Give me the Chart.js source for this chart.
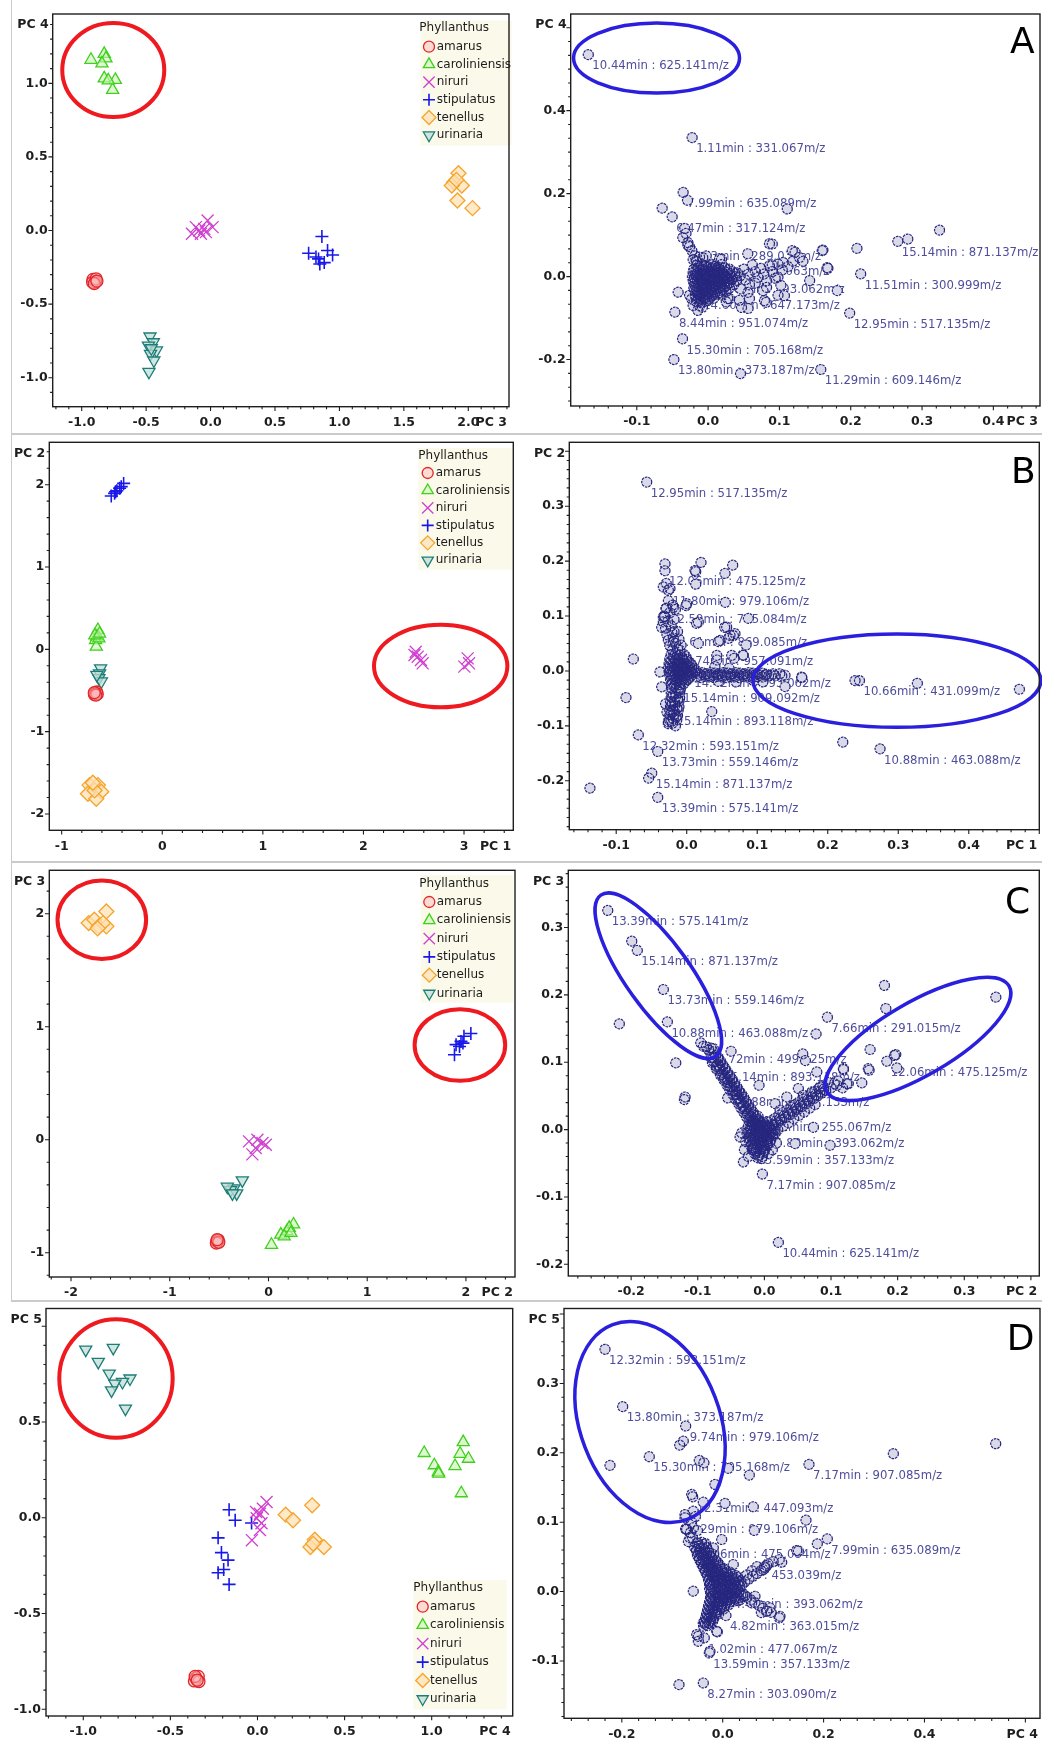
<!DOCTYPE html>
<html>
<head>
<meta charset="utf-8">
<script src="https://cdn.jsdelivr.net/npm/chart.js@4.4.1/dist/chart.umd.min.js"></script>
<style>
  html, body { margin: 0; padding: 0; background: #fff; }
  #fig { position: relative; width: 1042px; height: 1742px; overflow: hidden; background: #fff; }
  #fig canvas { position: absolute; }
  .sep { position: absolute; background: #cbcbcb; }
</style>
</head>
<body>
<div id="fig"></div>
<script>
// ---------------- categories ----------------
const species = ['amarus', 'caroliniensis', 'niruri', 'stipulatus', 'tenellus', 'urinaria'];
const legendTitle = 'Phyllanthus';

// ---------------- PCA scores (per species, [PCx, PCy]) ----------------
// PC3 vs PC4
const amarus34 = [[-0.912,-0.332],[-0.893,-0.348],[-0.915,-0.352],[-0.888,-0.328],[-0.902,-0.36],[-0.882,-0.344]];
const caroliniensis34 = [[-0.928,1.16],[-0.825,1.2],[-0.812,1.17],[-0.843,1.136],[-0.825,1.034],[-0.739,1.023],[-0.76,0.955],[-0.794,1.02]];
const niruri34 = [[-0.144,-0.022],[-0.088,0.0],[-0.049,0.011],[-0.023,0.068],[0.016,0.023],[-0.114,0.023],[-0.075,-0.022],[-0.036,-0.011]];
const stipulatus34 = [[0.864,-0.041],[0.761,-0.154],[0.838,-0.193],[0.848,-0.227],[0.908,-0.136],[0.947,-0.166],[0.882,-0.218],[0.818,-0.18]];
const tenellus34 = [[1.924,0.389],[1.89,0.328],[1.95,0.306],[1.872,0.306],[1.916,0.204],[2.033,0.152],[1.908,0.344]];
const urinaria34 = [[-0.47,-0.72],[-0.444,-0.759],[-0.482,-0.782],[-0.42,-0.815],[-0.466,-0.838],[-0.44,-0.883],[-0.478,-0.96],[-0.46,-0.8]];
// PC1 vs PC2
const amarus12 = [[-0.668,-0.532],[-0.652,-0.518],[-0.674,-0.548],[-0.646,-0.543],[-0.66,-0.556],[-0.676,-0.526]];
const caroliniensis12 = [[-0.64,0.235],[-0.65,0.154],[-0.663,0.113],[-0.656,0.032],[-0.63,0.134],[-0.67,0.17],[-0.623,0.19]];
const niruri12 = [[2.508,-0.069],[2.54,-0.089],[2.589,-0.17],[2.572,-0.13],[3.036,-0.11],[3.003,-0.21],[3.05,-0.17],[2.52,-0.03]];
const stipulatus12 = [[-0.507,1.863],[-0.474,1.895],[-0.451,1.927],[-0.424,1.956],[-0.384,2.016],[-0.464,1.915],[-0.408,1.976]];
const tenellus12 = [[-0.723,-1.649],[-0.64,-1.649],[-0.606,-1.73],[-0.739,-1.754],[-0.656,-1.815],[-0.673,-1.714],[-0.69,-1.62]];
const urinaria12 = [[-0.613,-0.231],[-0.623,-0.292],[-0.63,-0.35],[-0.606,-0.39],[-0.65,-0.31]];
// PC2 vs PC3
const amarus23 = [[-0.522,-0.898],[-0.508,-0.888],[-0.528,-0.914],[-0.503,-0.908],[-0.52,-0.884]];
const caroliniensis23 = [[0.03,-0.93],[0.125,-0.84],[0.186,-0.81],[0.254,-0.75],[0.21,-0.78],[0.159,-0.855],[0.227,-0.825]];
const niruri23 = [[-0.197,-0.015],[-0.112,0.0],[-0.163,-0.13],[-0.061,-0.03],[-0.027,-0.045],[-0.129,-0.074]];
const stipulatus23 = [[1.884,0.752],[1.9,0.841],[1.95,0.87],[1.98,0.915],[2.05,0.94],[1.935,0.825],[1.97,0.855]];
const tenellus23 = [[-1.642,2.02],[-1.821,1.917],[-1.764,1.947],[-1.72,1.888],[-1.642,1.888],[-1.676,1.917],[-1.73,1.87]];
const urinaria23 = [[-0.265,-0.36],[-0.35,-0.43],[-0.383,-0.445],[-0.417,-0.416],[-0.322,-0.475],[-0.365,-0.475]];
// PC4 vs PC5
const amarus45 = [[-0.355,-0.838],[-0.34,-0.828],[-0.362,-0.852],[-0.336,-0.855],[-0.358,-0.828],[-0.346,-0.848]];
const caroliniensis45 = [[0.957,0.338],[1.181,0.395],[1.015,0.274],[1.038,0.239],[1.134,0.27],[1.163,0.334],[1.211,0.308],[1.17,0.128],[1.04,0.23]];
const niruri45 = [[0.052,0.082],[0.014,0.021],[-0.004,-0.003],[0.023,-0.029],[-0.032,-0.117],[0.014,-0.064],[-0.008,0.03],[0.031,0.047]];
const stipulatus45 = [[-0.163,0.042],[-0.128,-0.013],[-0.034,-0.027],[-0.226,-0.105],[-0.207,-0.182],[-0.169,-0.221],[-0.194,-0.27],[-0.226,-0.287],[-0.163,-0.348]];
const tenellus45 = [[0.162,0.016],[0.204,-0.013],[0.314,0.065],[0.329,-0.115],[0.304,-0.153],[0.381,-0.153],[0.32,-0.136]];
const urinaria45 = [[-0.986,0.878],[-0.828,0.887],[-0.914,0.814],[-0.851,0.753],[-0.732,0.727],[-0.775,0.709],[-0.819,0.7],[-0.838,0.665],[-0.758,0.57]];

// ---------------- loadings (variables, [PCx, PCy]) ----------------
const loadPC34 = [
  [-0.0289,0.184],[-0.0644,0.165],[0.111,0.163],[-0.0327,0.116],[0.3245,0.112],[0.28,0.0905],[0.2087,0.068],[0.161,0.064],[0.09,0.0785],[0.168,0.02],[0.1424,-0.0096],[0.1812,-0.0337],[-0.042,-0.0377],[0.0454,-0.234],
  [-0.0355,0.094],[-0.0284,0.082],[-0.0228,0.0625],[-0.0186,0.05],[-0.031,0.104],[-0.026,0.072],[-0.021,0.041],[-0.016,0.036],[-0.012,0.047],[-0.0075,0.0457],[0.016,0.043],[0.0556,0.055],[0.0187,0.0416],[-0.0026,0.05],
  [0.086,0.079],[0.118,0.0625],[0.16,0.0625],[0.167,0.0216],[0.122,0.059],[0.133,0.037],[0.119,0.037],[0.105,0.034],[0.09,0.028],[0.128,0.046],[0.112,0.024],[0.098,0.03],[0.104,0.016],[0.094,-0.004],[0.09,0.012],[0.086,0.026],[0.082,-0.01],[0.078,0.006],[0.074,0.02],[0.066,-0.016],[0.07,-0.002],[0.066,0.012],[0.062,0.028],[0.058,-0.02],[0.052,-0.008],[0.056,0.006],[0.05,0.018],[0.098,-0.001],[0.102,-0.021],[0.098,-0.045],[0.107,-0.046],[0.082,-0.026],[0.079,-0.058],[0.0815,-0.062],[0.056,-0.077],[0.077,-0.034],[0.058,-0.053],[0.056,-0.038],[0.046,-0.03],[0.044,-0.057],[0.0468,-0.0745],[0.03,-0.053],[0.0255,-0.061],[0.0276,-0.053],
  [-0.023,-0.054],[-0.021,-0.07],[-0.012,-0.07],[-0.026,-0.045],[-0.008,-0.074],[-0.0144,-0.0817],
  [-0.016,0.027],[-0.009,0.029],[-0.003,0.026],[0.004,0.028],[0.011,0.025],[0.019,0.029],
  [-0.02,0.018],[-0.014,0.02],[-0.008,0.017],[-0.002,0.021],[0.005,0.018],[0.01,0.02],[0.016,0.017],[0.023,0.021],[0.03,0.018],
  [-0.021,0.01],[-0.015,0.008],[-0.009,0.011],[-0.003,0.009],[0.003,0.012],[0.009,0.009],[0.015,0.011],[0.021,0.008],[0.027,0.01],[0.034,0.012],[0.041,0.009],
  [-0.022,0.0],[-0.016,0.002],[-0.01,-0.001],[-0.004,0.002],[0.002,0.0],[0.008,0.003],[0.014,0.0],[0.02,0.002],[0.026,-0.001],[0.032,0.002],[0.038,0.0],[0.045,0.002],
  [-0.021,-0.009],[-0.015,-0.007],[-0.009,-0.01],[-0.003,-0.007],[0.003,-0.009],[0.009,-0.006],[0.015,-0.009],[0.021,-0.007],[0.027,-0.01],[0.033,-0.007],[0.04,-0.009],
  [-0.02,-0.016],[-0.014,-0.018],[-0.008,-0.016],[-0.002,-0.019],[0.004,-0.016],[0.01,-0.018],[0.016,-0.015],[0.022,-0.018],[0.029,-0.016],[0.036,-0.019],
  [-0.02,-0.027],[-0.014,-0.025],[-0.008,-0.028],[-0.002,-0.025],[0.004,-0.027],[0.01,-0.024],[0.016,-0.027],[0.023,-0.025],[0.03,-0.028],
  [-0.019,-0.034],[-0.013,-0.036],[-0.007,-0.034],[-0.001,-0.037],[0.005,-0.034],[0.011,-0.036],[0.018,-0.033],[0.025,-0.036],
  [-0.018,-0.045],[-0.012,-0.043],[-0.006,-0.046],[0.0,-0.043],[0.006,-0.045],[0.013,-0.042],[0.02,-0.045],
  [-0.017,-0.052],[-0.011,-0.054],[-0.005,-0.051],[0.001,-0.054],[0.008,-0.052],
  [-0.016,-0.061],[-0.01,-0.063],[-0.004,-0.06]
];
// densest part of the PC3/PC4 cloud
const loadPC34Core = [
  [-0.013,0.024],[-0.006,0.025],[0.001,0.023],[0.008,0.024],[0.015,0.022],
  [-0.017,0.014],[-0.011,0.015],[-0.005,0.013],[0.001,0.016],[0.008,0.014],[0.013,0.015],[0.019,0.013],[0.026,0.016],
  [-0.018,0.005],[-0.012,0.004],[-0.006,0.006],[0.0,0.005],[0.006,0.007],[0.012,0.005],[0.018,0.006],[0.024,0.004],[0.03,0.006],[0.037,0.007],
  [-0.019,-0.004],[-0.013,-0.003],[-0.007,-0.005],[-0.001,-0.002],[0.005,-0.004],[0.011,-0.002],[0.017,-0.004],[0.023,-0.003],[0.029,-0.005],[0.035,-0.003],
  [-0.018,-0.013],[-0.012,-0.011],[-0.006,-0.014],[0.0,-0.012],[0.006,-0.013],[0.012,-0.011],[0.018,-0.013],[0.024,-0.012],[0.031,-0.014],
  [-0.017,-0.022],[-0.011,-0.021],[-0.005,-0.023],[0.001,-0.021],[0.007,-0.023],[0.013,-0.02],[0.019,-0.022],[0.026,-0.021],
  [-0.016,-0.031],[-0.01,-0.03],[-0.004,-0.032],[0.002,-0.03],[0.008,-0.031],[0.014,-0.029],[0.021,-0.031],
  [-0.015,-0.04],[-0.009,-0.039],[-0.003,-0.041],[0.003,-0.039],[0.009,-0.04],[0.016,-0.038],
  [-0.014,-0.049],[-0.008,-0.048],[-0.002,-0.05],[0.004,-0.048],
  [-0.013,-0.057],[-0.007,-0.056],[-0.001,-0.058]
];
const labelsPC34 = [
  [-0.168,0.535,'10.44min : 625.141m/z'],
  [-0.0224,0.335,'1.11min : 331.067m/z'],
  [-0.035,0.203,'7.99min : 635.089m/z'],
  [-0.0504,0.144,'6.47min : 317.124m/z'],
  [-0.0284,0.076,'2.93min : 289.035m/z'],
  [-0.0168,0.0385,'5.10min : 477.063m/z'],
  [0.0047,-0.004,'4.48min : 393.062m/z'],
  [-0.0126,-0.0416,'14.60min : 647.173m/z'],
  [-0.0466,-0.0858,'8.44min : 951.074m/z'],
  [-0.0359,-0.15,'15.30min : 705.168m/z'],
  [-0.048,-0.2,'13.80min : 373.187m/z'],
  [0.158,-0.224,'11.29min : 609.146m/z'],
  [0.1985,-0.088,'12.95min : 517.135m/z'],
  [0.2139,0.0064,'11.51min : 300.999m/z'],
  [0.266,0.085,'15.14min : 871.137m/z']
];

const loadPC12 = [
  [0.0203,0.1976],[0.0652,0.1927],[-0.0308,0.195],[0.0128,0.1807],[0.0543,0.1776],[-0.029,0.1595],[0.0128,0.158],[-0.001,0.119],[0.0548,0.125],[-0.031,0.099],[0.0874,0.0958],[0.0138,0.0867],[0.0538,0.0795],[-0.0355,0.0795],[0.0662,0.0643],[0.0595,0.0594],[0.0449,0.0535],[0.0842,0.0473],[0.0797,0.0291],[0.0428,0.02],[0.0672,0.023],[-0.0757,0.0218],[-0.0861,-0.0484],[0.0355,-0.0739],[0.1631,-0.012],[0.1348,-0.009],[0.1253,-0.009],[0.1395,-0.0284],[0.2387,-0.0175],[0.3271,-0.0224],[0.4718,-0.0333],[0.2213,-0.1296],[-0.1372,-0.2133],[-0.054,-0.195],
  [-0.0332,0.153],[-0.0237,0.15],[-0.019,0.116],[0.0,0.1225],[-0.0332,0.098],[0.0165,0.089],[-0.0332,0.0895],[0.0567,0.08],[0.0614,0.065],[0.0685,0.068],[0.0472,0.0558],[-0.019,0.0527],[0.0165,0.05],[0.0803,0.0285],[0.0426,0.0285],[0.0638,0.0285],[-0.0379,-0.0018],[-0.0355,-0.029],[-0.026,-0.0927],[0.1394,-0.0078],[0.163,-0.011],[0.123,-0.005],[0.132,-0.005],[0.0118,0.183],
  [-0.022,0.03],[-0.016,0.031],[-0.01,0.029],[-0.004,0.03],
  [-0.024,0.022],[-0.018,0.023],[-0.012,0.021],[-0.006,0.022],[0.0,0.021],
  [-0.025,0.014],[-0.019,0.015],[-0.013,0.013],[-0.007,0.014],[-0.001,0.013],[0.005,0.015],
  [-0.026,0.006],[-0.02,0.007],[-0.014,0.005],[-0.008,0.006],[-0.002,0.005],[0.004,0.007],[0.01,0.005],
  [-0.025,-0.001],[-0.019,0.0],[-0.013,-0.002],[-0.007,-0.001],[-0.001,-0.002],[0.005,0.0],[0.011,-0.002],
  [-0.024,-0.008],[-0.018,-0.009],[-0.012,-0.007],[-0.006,-0.009],[0.0,-0.008],[0.006,-0.009],
  [-0.023,-0.016],[-0.017,-0.015],[-0.011,-0.017],[-0.005,-0.015],[0.001,-0.016],
  [-0.022,-0.024],[-0.016,-0.023],[-0.01,-0.025],[-0.004,-0.023],
  [0.016,-0.004],[0.022,-0.003],[0.028,-0.005],[0.034,-0.003],[0.04,-0.004],[0.046,-0.005],[0.052,-0.003],[0.058,-0.004],[0.064,-0.005],[0.07,-0.003],[0.076,-0.004],[0.082,-0.005],[0.088,-0.003],[0.094,-0.004],[0.1,-0.005],[0.107,-0.004],
  [0.014,-0.011],[0.02,-0.012],[0.026,-0.01],[0.032,-0.011],[0.038,-0.012],[0.044,-0.01],[0.05,-0.011],[0.056,-0.012],[0.062,-0.01],[0.068,-0.011],[0.074,-0.012],[0.08,-0.01],[0.086,-0.011],[0.093,-0.012],[0.1,-0.01],[0.108,-0.011],[0.116,-0.009],
  [0.12,-0.008],[0.113,-0.006],[0.108,-0.02],[0.095,-0.018],[0.07,-0.02],[0.045,-0.019],[0.06,0.005],[0.04,0.008],
  [-0.021,-0.032],[-0.015,-0.031],[-0.009,-0.033],[-0.022,-0.04],[-0.016,-0.041],[-0.01,-0.039],[-0.022,-0.048],[-0.016,-0.047],[-0.01,-0.049],
  [-0.023,-0.056],[-0.017,-0.057],[-0.011,-0.055],[-0.023,-0.064],[-0.017,-0.063],[-0.011,-0.065],[-0.024,-0.072],[-0.018,-0.073],[-0.012,-0.071],
  [-0.024,-0.08],[-0.018,-0.079],[-0.013,-0.081],[-0.025,-0.088],[-0.019,-0.087],[-0.014,-0.089],[-0.026,-0.096],[-0.02,-0.095],[-0.03,-0.06],[-0.028,-0.075],
  [-0.02,0.038],[-0.013,0.04],[-0.024,0.046],[-0.016,0.05],[-0.008,0.047],[-0.026,0.056],[-0.019,0.06],[-0.011,0.058],[-0.028,0.066],[-0.021,0.07],[-0.013,0.072],[-0.03,0.078],[-0.022,0.082],[-0.027,0.09],[-0.018,0.094],[-0.032,0.1],[-0.024,0.106],[-0.029,0.114],[-0.02,0.12],[-0.026,0.128],[-0.016,0.112]
];
// densest part of the PC1/PC2 cloud
const loadPC12Core = [
  [-0.019,0.026],[-0.013,0.027],[-0.007,0.025],[-0.001,0.026],
  [-0.022,0.018],[-0.016,0.019],[-0.01,0.017],[-0.004,0.018],[0.002,0.017],
  [-0.023,0.01],[-0.017,0.011],[-0.011,0.009],[-0.005,0.01],[0.001,0.009],[0.007,0.011],
  [-0.023,0.002],[-0.017,0.003],[-0.011,0.001],[-0.005,0.002],[0.001,0.001],[0.007,0.003],[0.013,0.001],
  [-0.022,-0.005],[-0.016,-0.004],[-0.01,-0.006],[-0.004,-0.005],[0.002,-0.006],[0.008,-0.004],
  [-0.021,-0.012],[-0.015,-0.013],[-0.009,-0.011],[-0.003,-0.012],[0.003,-0.013],
  [-0.02,-0.02],[-0.014,-0.019],[-0.008,-0.021],[-0.002,-0.019],
  [0.019,-0.0075],[0.025,-0.007],[0.031,-0.008],[0.037,-0.0075],[0.043,-0.007],[0.049,-0.008],[0.055,-0.0075],[0.061,-0.007],[0.067,-0.008],[0.073,-0.0075],[0.079,-0.007],[0.085,-0.008],[0.091,-0.0075],[0.097,-0.007],[0.104,-0.008],[0.111,-0.0075],
  [-0.018,-0.028],[-0.012,-0.036],[-0.019,-0.044],[-0.013,-0.052],[-0.02,-0.06],[-0.014,-0.068],[-0.021,-0.076],[-0.015,-0.084],[-0.022,-0.092],[-0.016,-0.1]
];
const labelsPC12 = [
  [-0.0567,0.344,'12.95min : 517.135m/z'],
  [-0.0308,0.1825,'12.06min : 475.125m/z'],
  [-0.026,0.147,'11.80min : 979.106m/z'],
  [-0.0294,0.114,'12.59min : 785.084m/z'],
  [-0.018,0.0716,'4.61min : 869.085m/z'],
  [-0.0095,0.0376,'8.74min : 957.091m/z'],
  [0.005,-0.002,'14.42min : 393.062m/z'],
  [-0.0105,-0.0302,'15.14min : 909.092m/z'],
  [-0.0199,-0.0709,'15.14min : 893.118m/z'],
  [-0.0686,-0.1164,'12.32min : 593.151m/z'],
  [-0.0411,-0.1466,'13.73min : 559.146m/z'],
  [-0.0496,-0.186,'15.14min : 871.137m/z'],
  [-0.0411,-0.2302,'13.39min : 575.141m/z'],
  [0.245,-0.0175,'10.66min : 431.099m/z'],
  [0.2742,-0.1418,'10.88min : 463.088m/z']
];

const loadPC23 = [
  [-0.1991,0.2798],[-0.2177,0.157],[-0.133,0.099],[-0.12,0.0446],[-0.0955,0.1287],[-0.0915,0.1237],[-0.05,0.1163],[-0.055,0.047],[-0.008,0.0658],[0.0576,0.1124],[0.0616,0.1025],[0.0776,0.142],[0.1802,0.214],[0.1823,0.1798],[0.3474,0.1966],[0.1587,0.1189],[0.1572,0.0881],[0.1952,0.11],[0.1972,0.1114],[0.1988,0.0915],[0.1462,0.0693],[0.1187,0.0891],[0.1237,0.068],[0.1172,0.062],[0.1107,0.072],[0.0736,0.0034],[0.0986,-0.0233],[-0.119,0.0484],[0.0787,0.0856],[0.1186,0.0906],[0.126,0.0683],[0.1087,0.0658],[0.156,0.0906],[0.0461,-0.0208],[0.006,-0.0357],[-0.0315,-0.0481],[-0.0365,-0.011],
  [-0.01,0.003],[-0.0135,0.009],[-0.017,0.014],[-0.0205,0.02],[-0.024,0.025],[-0.0275,0.031],[-0.031,0.036],[-0.0345,0.041],[-0.038,0.047],[-0.0415,0.052],[-0.045,0.058],[-0.0485,0.063],[-0.052,0.069],[-0.0555,0.074],[-0.059,0.079],[-0.0625,0.085],[-0.066,0.09],[-0.0695,0.096],[-0.073,0.101],[-0.0765,0.107],[-0.08,0.112],[-0.0835,0.118],[-0.087,0.123],
  [-0.003,0.004],[-0.0065,0.01],[-0.01,0.015],[-0.0135,0.021],[-0.017,0.026],[-0.0205,0.031],[-0.024,0.037],[-0.0275,0.042],[-0.031,0.048],[-0.0345,0.053],[-0.038,0.058],[-0.0415,0.064],[-0.045,0.069],[-0.0485,0.075],[-0.052,0.08],[-0.0555,0.085],[-0.059,0.091],[-0.0625,0.096],[-0.066,0.102],[-0.07,0.108],
  [-0.019,0.006],[-0.023,0.013],[-0.027,0.019],[-0.031,0.026],[-0.035,0.032],[-0.039,0.039],[-0.043,0.045],[-0.047,0.052],[-0.052,0.059],[-0.056,0.066],[-0.061,0.074],[-0.066,0.081],[-0.072,0.09],[-0.078,0.099],
  [0.008,0.002],[0.014,0.006],[0.02,0.01],[0.026,0.014],[0.032,0.018],[0.038,0.022],[0.044,0.026],[0.05,0.03],[0.056,0.034],[0.062,0.038],[0.068,0.042],[0.074,0.046],[0.08,0.05],[0.086,0.054],[0.092,0.058],
  [0.01,0.013],[0.016,0.017],[0.022,0.021],[0.028,0.025],[0.034,0.029],[0.04,0.033],[0.046,0.037],[0.052,0.041],[0.058,0.045],[0.064,0.049],[0.07,0.053],[0.076,0.057],[0.082,0.061],[0.088,0.065],[0.096,0.07],
  [0.012,-0.006],[0.02,0.0],[0.028,0.005],[0.036,0.01],[0.044,0.016],[0.052,0.021],[0.06,0.026],[0.068,0.032],[0.076,0.037],
  [0.016,0.0386],[0.0336,0.0484],[0.051,0.061],[0.0586,0.051],[0.0712,0.0559],[0.0836,0.0633],[0.0435,0.0361],[0.0236,0.0287],[0.1,0.062],[0.105,0.068],
  [-0.02,0.012],[-0.014,0.011],[-0.008,0.013],[-0.002,0.011],[0.004,0.012],
  [-0.024,0.006],[-0.018,0.005],[-0.012,0.007],[-0.006,0.005],[0.0,0.006],[0.006,0.005],[0.012,0.007],
  [-0.026,0.0],[-0.02,-0.001],[-0.014,0.001],[-0.008,-0.001],[-0.002,0.0],[0.004,-0.001],[0.01,0.001],[0.016,0.0],
  [-0.026,-0.006],[-0.02,-0.007],[-0.014,-0.005],[-0.008,-0.007],[-0.002,-0.006],[0.004,-0.007],[0.01,-0.005],[0.016,-0.006],
  [-0.024,-0.012],[-0.018,-0.013],[-0.012,-0.011],[-0.006,-0.013],[0.0,-0.012],[0.006,-0.013],[0.012,-0.011],
  [-0.022,-0.018],[-0.016,-0.019],[-0.01,-0.017],[-0.004,-0.019],[0.002,-0.018],[0.008,-0.019],
  [-0.02,-0.024],[-0.014,-0.025],[-0.008,-0.023],[-0.002,-0.025],[0.004,-0.024],
  [-0.018,-0.03],[-0.012,-0.031],[-0.006,-0.029],[0.0,-0.031],
  [-0.014,-0.036],[-0.008,-0.037],[-0.002,-0.035],[-0.01,-0.042],[-0.004,-0.043],
  [-0.028,-0.018],[-0.03,-0.03],[-0.024,-0.04],[0.012,-0.03],[0.018,-0.02],[-0.034,-0.005]
];
// densest part of the PC2/PC3 cloud
const loadPC23Core = [
  [-0.0065,0.006],[-0.01,0.0115],[-0.0135,0.017],[-0.017,0.0225],[-0.0205,0.028],[-0.024,0.0335],[-0.0275,0.039],[-0.031,0.0445],[-0.0345,0.05],[-0.038,0.0555],[-0.0415,0.061],[-0.045,0.0665],[-0.0485,0.072],[-0.052,0.0775],[-0.0555,0.083],[-0.059,0.0885],[-0.0625,0.094],[-0.066,0.0995],[-0.0695,0.105],[-0.073,0.11],[-0.0765,0.1155],[-0.08,0.121],
  [-0.0145,0.0045],[-0.018,0.011],[-0.0215,0.0165],[-0.025,0.022],[-0.0285,0.0285],[-0.032,0.034],[-0.036,0.04],[-0.04,0.046],[-0.044,0.052],[-0.048,0.058],[-0.052,0.064],[-0.056,0.07],[-0.06,0.076],[-0.064,0.082],[-0.068,0.088],[-0.072,0.094],[-0.076,0.101],[-0.08,0.107],
  [0.011,0.0075],[0.017,0.0115],[0.023,0.0155],[0.029,0.0195],[0.035,0.0235],[0.041,0.0275],[0.047,0.0315],[0.053,0.0355],[0.059,0.0395],[0.065,0.0435],[0.071,0.0475],[0.077,0.0515],[0.083,0.0555],[0.089,0.0595],
  [-0.017,0.009],[-0.011,0.008],[-0.005,0.01],[0.001,0.008],
  [-0.021,0.003],[-0.015,0.002],[-0.009,0.004],[-0.003,0.002],[0.003,0.003],[0.009,0.002],
  [-0.023,-0.003],[-0.017,-0.004],[-0.011,-0.002],[-0.005,-0.004],[0.001,-0.003],[0.007,-0.004],[0.013,-0.002],
  [-0.023,-0.009],[-0.017,-0.01],[-0.011,-0.008],[-0.005,-0.01],[0.001,-0.009],[0.007,-0.01],[0.013,-0.008],
  [-0.021,-0.015],[-0.015,-0.016],[-0.009,-0.014],[-0.003,-0.016],[0.003,-0.015],[0.009,-0.016],
  [-0.019,-0.021],[-0.013,-0.022],[-0.007,-0.02],[-0.001,-0.022],[0.005,-0.021],
  [-0.017,-0.027],[-0.011,-0.028],[-0.005,-0.026],[0.001,-0.028],
  [-0.013,-0.033],[-0.007,-0.034],[-0.001,-0.032],[-0.009,-0.039],[-0.003,-0.04]
];
const labelsPC23 = [
  [-0.2351,0.3254,'13.39min : 575.141m/z'],
  [-0.1907,0.266,'15.14min : 871.137m/z'],
  [-0.1516,0.208,'13.73min : 559.146m/z'],
  [-0.1456,0.16,'10.88min : 463.088m/z'],
  [-0.0766,0.1204,'6.72min : 499.125m/z'],
  [-0.0676,0.094,'15.14min : 893.118m/z'],
  [0.0946,0.1669,'7.66min : 291.015m/z'],
  [0.1838,0.1015,'12.06min : 475.125m/z'],
  [-0.0425,0.0565,'6.88min : 447.133m/z'],
  [-0.0095,0.0198,'5.71min : 255.067m/z'],
  [0.01,-0.004,'4.83min : 393.062m/z'],
  [-0.0165,-0.0297,'13.59min : 357.133m/z'],
  [-0.003,-0.066,'7.17min : 907.085m/z'],
  [0.021,-0.1675,'10.44min : 625.141m/z']
];

const loadPC45 = [
  [-0.2234,0.1818],[-0.0781,0.2169],[-0.0853,0.2111],[-0.0464,0.189],[-0.0372,0.1856],[0.0111,0.1775],[0.0528,0.1679],[0.3383,0.1987],[0.5412,0.2131],[-0.0153,0.1544],[0.0046,0.127],[0.0607,0.1222],[-0.0385,0.1289],[-0.0583,0.1159],[0.1651,0.1029],[0.0627,0.088],[-0.002,0.075],[-0.0734,0.0904],[0.1876,0.0688],[0.1467,0.0592],[0.15,0.0585],[0.117,0.0423],[0.0825,0.0356],[-0.0583,0.0005],[0.1122,-0.038],[0.0766,-0.0303],[-0.0483,-0.0645],[-0.0483,-0.0717],[-0.0866,-0.1342],[-0.0107,-0.0582],
  [-0.0615,0.14],[-0.0747,0.111],[-0.0714,0.0895],[-0.0186,0.063],[-0.0648,0.0775],[0.021,0.039],[0.0872,0.0375],[0.0805,0.0317],[0.064,-0.0068],[0.0575,-0.0163],[0.0938,-0.0235],[0.1136,-0.0356],[0.0872,-0.0284],[-0.0385,-0.0452],[-0.0119,-0.0573],[-0.0515,-0.062],[-0.0252,-0.0861],
  [-0.05,0.07],[-0.042,0.071],[-0.034,0.069],
  [-0.056,0.064],[-0.048,0.065],[-0.04,0.063],[-0.032,0.064],
  [-0.052,0.058],[-0.044,0.057],[-0.036,0.059],[-0.028,0.058],
  [-0.05,0.052],[-0.042,0.053],[-0.034,0.051],[-0.026,0.052],[-0.018,0.053],
  [-0.046,0.046],[-0.038,0.045],[-0.03,0.047],[-0.022,0.046],[-0.014,0.045],
  [-0.042,0.04],[-0.034,0.041],[-0.026,0.039],[-0.018,0.04],[-0.01,0.041],
  [-0.038,0.034],[-0.03,0.035],[-0.022,0.033],[-0.014,0.034],[-0.006,0.035],[0.002,0.033],
  [-0.034,0.028],[-0.026,0.029],[-0.018,0.027],[-0.01,0.028],[-0.002,0.029],[0.006,0.027],[0.014,0.028],
  [-0.03,0.022],[-0.022,0.023],[-0.014,0.021],[-0.006,0.022],[0.002,0.023],[0.01,0.021],[0.018,0.022],[0.026,0.023],
  [-0.028,0.016],[-0.02,0.017],[-0.012,0.015],[-0.004,0.016],[0.004,0.017],[0.012,0.015],[0.02,0.016],[0.028,0.017],[0.036,0.015],
  [-0.026,0.01],[-0.018,0.011],[-0.01,0.009],[-0.002,0.01],[0.006,0.011],[0.014,0.009],[0.022,0.01],[0.03,0.011],[0.038,0.009],
  [-0.026,0.004],[-0.018,0.003],[-0.01,0.005],[-0.002,0.004],[0.006,0.003],[0.014,0.005],[0.022,0.004],[0.03,0.003],
  [-0.024,-0.002],[-0.016,-0.001],[-0.008,-0.003],[0.0,-0.002],[0.008,-0.001],[0.016,-0.003],[0.024,-0.002],[0.032,-0.001],[0.04,-0.003],
  [-0.024,-0.008],[-0.016,-0.009],[-0.008,-0.007],[0.0,-0.008],[0.008,-0.009],[0.016,-0.007],[0.024,-0.008],[0.032,-0.009],[0.04,-0.007],[0.048,-0.008],
  [-0.026,-0.014],[-0.018,-0.013],[-0.01,-0.015],[-0.002,-0.014],[0.006,-0.013],[0.014,-0.015],[0.022,-0.014],[0.03,-0.013],
  [-0.028,-0.02],[-0.02,-0.021],[-0.012,-0.019],[-0.004,-0.02],[0.004,-0.021],[0.012,-0.019],
  [-0.03,-0.026],[-0.022,-0.025],[-0.014,-0.027],[-0.006,-0.026],[0.002,-0.025],
  [-0.032,-0.032],[-0.024,-0.033],[-0.016,-0.031],[-0.008,-0.032],
  [-0.034,-0.038],[-0.026,-0.037],[-0.018,-0.039],
  [-0.036,-0.044],[-0.028,-0.045],[-0.02,-0.043],
  [-0.038,-0.05],[-0.03,-0.049],
  [0.044,0.014],[0.052,0.018],[0.06,0.022],[0.068,0.026],[0.076,0.03],[0.084,0.034],[0.048,0.024],[0.058,0.03],[0.068,0.036],[0.1,0.043],[0.112,0.046],[0.09,0.04],
  [0.056,-0.012],[0.064,-0.016],[0.072,-0.02],[0.08,-0.024],[0.088,-0.028],[0.096,-0.03],
  [-0.06,0.078],[-0.064,0.085],[-0.058,0.092],[-0.068,0.072],[-0.073,0.09],[-0.062,0.1],[-0.054,0.108],[-0.05,0.088]
];
// densest part of the PC4/PC5 cloud
const loadPC45Core = [
  [-0.046,0.067],[-0.038,0.068],
  [-0.052,0.061],[-0.044,0.062],[-0.036,0.06],
  [-0.048,0.055],[-0.04,0.054],[-0.032,0.056],[-0.024,0.055],
  [-0.046,0.049],[-0.038,0.05],[-0.03,0.048],[-0.022,0.049],
  [-0.042,0.043],[-0.034,0.042],[-0.026,0.044],[-0.018,0.043],[-0.01,0.042],
  [-0.038,0.037],[-0.03,0.038],[-0.022,0.036],[-0.014,0.037],[-0.006,0.038],
  [-0.034,0.031],[-0.026,0.032],[-0.018,0.03],[-0.01,0.031],[-0.002,0.032],[0.006,0.03],
  [-0.03,0.025],[-0.022,0.026],[-0.014,0.024],[-0.006,0.025],[0.002,0.026],[0.01,0.024],[0.018,0.025],
  [-0.026,0.019],[-0.018,0.02],[-0.01,0.018],[-0.002,0.019],[0.006,0.02],[0.014,0.018],[0.022,0.019],[0.03,0.02],
  [-0.024,0.013],[-0.016,0.014],[-0.008,0.012],[0.0,0.013],[0.008,0.014],[0.016,0.012],[0.024,0.013],[0.032,0.014],
  [-0.022,0.007],[-0.014,0.008],[-0.006,0.006],[0.002,0.007],[0.01,0.008],[0.018,0.006],[0.026,0.007],[0.034,0.008],
  [-0.022,0.001],[-0.014,0.0],[-0.006,0.002],[0.002,0.001],[0.01,0.0],[0.018,0.002],[0.026,0.001],
  [-0.02,-0.005],[-0.012,-0.004],[-0.004,-0.006],[0.004,-0.005],[0.012,-0.004],[0.02,-0.006],[0.028,-0.005],[0.036,-0.004],[0.044,-0.006],
  [-0.022,-0.011],[-0.014,-0.012],[-0.006,-0.01],[0.002,-0.011],[0.01,-0.012],[0.018,-0.01],[0.026,-0.011],[0.034,-0.012],
  [-0.024,-0.017],[-0.016,-0.016],[-0.008,-0.018],[0.0,-0.017],[0.008,-0.016],
  [-0.026,-0.023],[-0.018,-0.024],[-0.01,-0.022],[-0.002,-0.023],
  [-0.028,-0.029],[-0.02,-0.028],[-0.012,-0.03],
  [-0.03,-0.035],[-0.022,-0.036],[-0.014,-0.034],
  [-0.032,-0.041],[-0.024,-0.042],
  [-0.034,-0.047],[-0.026,-0.046]
];
const labelsPC45 = [
  [-0.2333,0.3492,'12.32min : 593.151m/z'],
  [-0.1983,0.2665,'13.80min : 373.187m/z'],
  [-0.1455,0.1944,'15.30min : 705.168m/z'],
  [-0.0734,0.2386,'9.74min : 979.106m/z'],
  [0.1711,0.1833,'7.17min : 907.085m/z'],
  [-0.0595,0.1366,'12.31min : 447.093m/z'],
  [-0.0747,0.1063,'9.29min : 979.106m/z'],
  [0.2074,0.076,'7.99min : 635.089m/z'],
  [-0.05,0.07,'9.96min : 475.084m/z'],
  [-0.029,0.04,'1.77min : 453.039m/z'],
  [0.0139,-0.0029,'4.48min : 393.062m/z'],
  [0.0065,-0.0346,'4.82min : 363.015m/z'],
  [-0.0365,-0.0668,'1.02min : 477.067m/z'],
  [-0.0265,-0.0885,'13.59min : 357.133m/z'],
  [-0.0384,-0.1318,'8.27min : 303.090m/z']
];

// ---------------- tick labels ----------------
const ticksScore34X = ['-1.0','-0.5','0.0','0.5','1.0','1.5','2.0'];
const ticksScore34Y = ['-1.0','-0.5','0.0','0.5','1.0'];
const ticksLoad34X = ['-0.1','0.0','0.1','0.2','0.3','0.4'];
const ticksLoad34Y = ['-0.2','0.0','0.2','0.4'];
const ticksScore12X = ['-1','0','1','2','3'];
const ticksScore12Y = ['-2','-1','0','1','2'];
const ticksLoad12X = ['-0.1','0.0','0.1','0.2','0.3','0.4'];
const ticksLoad12Y = ['-0.2','-0.1','0.0','0.1','0.2','0.3'];
const ticksScore23X = ['-2','-1','0','1','2'];
const ticksScore23Y = ['-1','0','1','2'];
const ticksLoad23X = ['-0.2','-0.1','0.0','0.1','0.2','0.3'];
const ticksLoad23Y = ['-0.2','-0.1','0.0','0.1','0.2','0.3'];
const ticksScore45X = ['-1.0','-0.5','0.0','0.5','1.0'];
const ticksScore45Y = ['-1.0','-0.5','0.0','0.5'];
const ticksLoad45X = ['-0.2','0.0','0.2','0.4'];
const ticksLoad45Y = ['-0.1','0.0','0.1','0.2','0.3'];

// ---------------- styles ----------------
const speciesStyle = {
  amarus:        { pointStyle: 'circle',   radius: 6,   rotation: 0,   bg: 'rgba(250,185,185,0.45)', border: '#e3262b', width: 1.3 },
  caroliniensis: { pointStyle: 'triangle', radius: 7,   rotation: 0,   bg: 'rgba(200,245,180,0.6)',  border: '#3fd01c', width: 1.3 },
  niruri:        { pointStyle: 'crossRot', radius: 8.5, rotation: 0,   bg: 'rgba(0,0,0,0)',          border: '#d040d0', width: 1.3 },
  stipulatus:    { pointStyle: 'cross',    radius: 6.5, rotation: 0,   bg: 'rgba(0,0,0,0)',          border: '#1818ea', width: 1.6 },
  tenellus:      { pointStyle: 'rectRot',  radius: 7.5, rotation: 0,   bg: 'rgba(253,226,182,0.75)', border: '#f6a42c', width: 1.3 },
  urinaria:      { pointStyle: 'triangle', radius: 7,   rotation: 180, bg: 'rgba(192,222,214,0.75)', border: '#1d7d79', width: 1.3 }
};
const loadStyle = { bg: '#d9d9e8', border: '#27277f', radius: 5, width: 1.2 };
const RED = '#ee1a1f', BLUE = '#2a1fdc';
const tickFont = { family: 'DejaVu Sans', size: 12.5, weight: 'bold' };
const INK = '#1e1e1e';

const panels = [
  { canvas: [0, 0, 530, 433], box: [52.7, 14, 509, 406.7], xr: [-1.225, 2.316], yr: [-1.197, 1.471],
    xt: ticksScore34X, yt: ticksScore34Y, xm: 5, ym: 5, xTitle: 'PC 3', yTitle: 'PC 4',
    scores: { amarus: amarus34, caroliniensis: caroliniensis34, niruri: niruri34, stipulatus: stipulatus34, tenellus: tenellus34, urinaria: urinaria34 },
    legend: { title: [419.3, 28], first: 46.7, step: 17.7, mx: 429, tx: 436.7, bg: [420.5, 20.5, 511.5, 145.5] },
    ellipses: [{ cx: -0.755, cy: 1.09, rx: 51, ry: 47, rot: 0, color: RED, w: 4 }] },
  { canvas: [520, 0, 522, 433], box: [570.7, 14, 1040, 406], xr: [-0.1927, 0.4654], yr: [-0.312, 0.633],
    xt: ticksLoad34X, yt: ticksLoad34Y, xm: 5, ym: 6, xTitle: 'PC 3', yTitle: 'PC 4',
    loads: loadPC34.concat(loadPC34Core), labels: labelsPC34, letter: ['A', 1010, 53.3],
    ellipses: [{ cx: -0.0723, cy: 0.5267, rx: 83, ry: 35, rot: 0, color: BLUE, w: 3.5 }] },
  { canvas: [0, 433, 530, 428], box: [49.3, 442.3, 513.3, 830.3], xr: [-1.123, 3.49], yr: [-2.198, 2.515],
    xt: ticksScore12X, yt: ticksScore12Y, xm: 5, ym: 5, xTitle: 'PC 1', yTitle: 'PC 2',
    scores: { amarus: amarus12, caroliniensis: caroliniensis12, niruri: niruri12, stipulatus: stipulatus12, tenellus: tenellus12, urinaria: urinaria12 },
    legend: { title: [418.3, 455.7], first: 473, step: 17.46, mx: 427.7, tx: 435.7, bg: [418.3, 448, 511.7, 569.7] },
    ellipses: [{ cx: 2.768, cy: -0.203, rx: 66.7, ry: 41.3, rot: 0, color: RED, w: 4 }] },
  { canvas: [520, 433, 522, 428], box: [569.3, 442.3, 1039.3, 829.7], xr: [-0.1665, 0.5], yr: [-0.289, 0.4164],
    xt: ticksLoad12X, yt: ticksLoad12Y, xm: 5, ym: 6, xTitle: 'PC 1', yTitle: 'PC 2',
    loads: loadPC12.concat(loadPC12Core), labels: labelsPC12, letter: ['B', 1011, 483],
    ellipses: [{ cx: 0.298, cy: -0.0175, rx: 144, ry: 46.7, rot: 0, color: BLUE, w: 3.5 }] },
  { canvas: [0, 861, 530, 439], box: [49.3, 870.3, 515, 1277], xr: [-2.22, 2.497], yr: [-1.215, 2.384],
    xt: ticksScore23X, yt: ticksScore23Y, xm: 5, ym: 5, xTitle: 'PC 2', yTitle: 'PC 3',
    scores: { amarus: amarus23, caroliniensis: caroliniensis23, niruri: niruri23, stipulatus: stipulatus23, tenellus: tenellus23, urinaria: urinaria23 },
    legend: { title: [419.3, 883.7], first: 902, step: 18.3, mx: 429.3, tx: 436.7, bg: [420.7, 875, 513.3, 1002.7] },
    ellipses: [{ cx: -1.688, cy: 1.947, rx: 44.3, ry: 39.2, rot: 0, color: RED, w: 4 },
               { cx: 1.939, cy: 0.838, rx: 45.3, ry: 35.8, rot: 0, color: RED, w: 4 }] },
  { canvas: [520, 861, 522, 439], box: [568.3, 870.3, 1039.3, 1276], xr: [-0.2943, 0.4126], yr: [-0.2174, 0.385],
    xt: ticksLoad23X, yt: ticksLoad23Y, xm: 5, ym: 5, xTitle: 'PC 2', yTitle: 'PC 3',
    loads: loadPC23.concat(loadPC23Core), labels: labelsPC23, letter: ['C', 1005, 913],
    ellipses: [{ cx: -0.1592, cy: 0.2285, rx: 99, ry: 32.4, rot: 54.5, color: BLUE, w: 3.5 },
               { cx: 0.2305, cy: 0.1346, rx: 105.3, ry: 36.5, rot: -30.2, color: BLUE, w: 3.5 }] },
  { canvas: [0, 1300, 530, 442], box: [46, 1308.3, 512.7, 1716], xr: [-1.214, 1.465], yr: [-1.035, 1.0925],
    xt: ticksScore45X, yt: ticksScore45Y, xm: 5, ym: 5, xTitle: 'PC 4', yTitle: 'PC 5',
    scores: { amarus: amarus45, caroliniensis: caroliniensis45, niruri: niruri45, stipulatus: stipulatus45, tenellus: tenellus45, urinaria: urinaria45 },
    legend: { title: [413.3, 1588.3], first: 1606.7, step: 18.46, mx: 422.7, tx: 430, bg: [413.3, 1580, 506.7, 1709.3] },
    ellipses: [{ cx: -0.8123, cy: 0.7267, rx: 56.7, ry: 59.2, rot: 0, color: RED, w: 4 }] },
  { canvas: [520, 1300, 522, 442], box: [564, 1308.3, 1040, 1718.3], xr: [-0.3146, 0.629], yr: [-0.1827, 0.408],
    xt: ticksLoad45X, yt: ticksLoad45Y, xm: 6, ym: 5, xTitle: 'PC 4', yTitle: 'PC 5',
    loads: loadPC45.concat(loadPC45Core), labels: labelsPC45, letter: ['D', 1006.7, 1350],
    ellipses: [{ cx: -0.1441, cy: 0.2443, rx: 104.3, ry: 69.7, rot: 69, color: BLUE, w: 3.5 }] }
];

// ---------------- helpers ----------------
const toXY = arr => arr.map(p => ({ x: p[0], y: p[1] }));

function drawMarker(ctx, st, x, y, r) {
  ctx.save();
  ctx.strokeStyle = st.border; ctx.fillStyle = st.bg; ctx.lineWidth = st.width;
  ctx.beginPath();
  const c30 = Math.cos(Math.PI / 6), d = Math.SQRT1_2 * r;
  switch (st.pointStyle) {
    case 'circle': ctx.arc(x, y, r, 0, Math.PI * 2); break;
    case 'triangle':
      if (st.rotation === 180) { ctx.moveTo(x, y + r); ctx.lineTo(x + c30 * r, y - r / 2); ctx.lineTo(x - c30 * r, y - r / 2); }
      else { ctx.moveTo(x, y - r); ctx.lineTo(x + c30 * r, y + r / 2); ctx.lineTo(x - c30 * r, y + r / 2); }
      ctx.closePath(); break;
    case 'crossRot': ctx.moveTo(x - d, y - d); ctx.lineTo(x + d, y + d); ctx.moveTo(x + d, y - d); ctx.lineTo(x - d, y + d); break;
    case 'cross': ctx.moveTo(x - r, y); ctx.lineTo(x + r, y); ctx.moveTo(x, y - r); ctx.lineTo(x, y + r); break;
    case 'rectRot': ctx.moveTo(x, y - r); ctx.lineTo(x + r, y); ctx.lineTo(x, y + r); ctx.lineTo(x - r, y); ctx.closePath(); break;
  }
  if (st.pointStyle !== 'cross' && st.pointStyle !== 'crossRot') ctx.fill();
  ctx.stroke();
  ctx.restore();
}

function axisTicks(ctx, scale, labels, sub, horizontal, area) {
  const major = parseFloat(labels[1]) - parseFloat(labels[0]);
  const step = major / sub;
  ctx.beginPath();
  for (let k = Math.ceil(scale.min / step - 1e-9); k * step <= scale.max + 1e-9; k++) {
    const v = k * step;
    const isMajor = Math.abs(v / major - Math.round(v / major)) < 1e-6;
    const len = isMajor ? 4.3 : 2.6;
    const px = scale.getPixelForValue(v);
    if (horizontal) { ctx.moveTo(px, area.bottom); ctx.lineTo(px, area.bottom + len); }
    else { ctx.moveTo(area.left, px); ctx.lineTo(area.left - len, px); }
  }
  ctx.stroke();
}

function decorPlugin(p) {
  const ox = p.canvas[0], oy = p.canvas[1];
  return {
    id: 'decor',
    beforeDatasetsDraw(chart) {
      const ctx = chart.ctx;
      ctx.save();
      if (p.legend) {
        const L = p.legend;
        ctx.fillStyle = '#fbfaea';
        ctx.fillRect(L.bg[0] - ox, L.bg[1] - oy, L.bg[2] - L.bg[0], L.bg[3] - L.bg[1]);
        ctx.font = '12px "DejaVu Sans"';
        ctx.textBaseline = 'middle'; ctx.textAlign = 'left';
        ctx.fillStyle = '#1c1c1c';
        ctx.fillText(legendTitle, L.title[0] - ox, L.title[1] - oy);
        const legR = { circle: 5.5, triangle: 6.5, crossRot: 8, cross: 6, rectRot: 7 };
        species.forEach((s, i) => {
          const y = L.first + i * L.step - oy;
          const st = speciesStyle[s];
          drawMarker(ctx, st, L.mx - ox, y, legR[st.pointStyle]);
          ctx.fillStyle = '#1c1c1c';
          ctx.fillText(s, L.tx - ox, y);
        });
      }
      if (p.labels) {
        const xs = chart.scales.x, ys = chart.scales.y;
        ctx.font = '11.7px "DejaVu Sans"';
        ctx.fillStyle = '#4d4d9c';
        ctx.textBaseline = 'middle'; ctx.textAlign = 'left';
        p.labels.forEach(l => {
          ctx.fillText(l[2], xs.getPixelForValue(l[0]) + 4, ys.getPixelForValue(l[1]) + 11.7);
        });
      }
      ctx.restore();
    },
    beforeDatasetDraw(chart, args) {
      if (p.loads && args.meta && args.meta.index === 1) chart.ctx.setLineDash([2.6, 0.9]);
    },
    afterDatasetDraw(chart) {
      chart.ctx.setLineDash([]);
    },
    afterDatasetsDraw(chart) {
      const ctx = chart.ctx, a = chart.chartArea, xs = chart.scales.x, ys = chart.scales.y;
      ctx.save();
      ctx.setLineDash([]);
      p.ellipses.forEach(e => {
        ctx.beginPath();
        ctx.ellipse(xs.getPixelForValue(e.cx), ys.getPixelForValue(e.cy), e.rx, e.ry, e.rot * Math.PI / 180, 0, Math.PI * 2);
        ctx.strokeStyle = e.color; ctx.lineWidth = e.w; ctx.stroke();
      });
      ctx.strokeStyle = INK; ctx.lineWidth = 1.4;
      ctx.strokeRect(a.left, a.top, a.right - a.left, a.bottom - a.top);
      ctx.lineWidth = 1.1;
      axisTicks(ctx, xs, p.xt, p.xm, true, a);
      axisTicks(ctx, ys, p.yt, p.ym, false, a);
      ctx.font = 'bold 12.5px "DejaVu Sans"';
      ctx.fillStyle = INK; ctx.textBaseline = 'middle'; ctx.textAlign = 'right';
      ctx.fillText(p.xTitle, a.right - 2, a.bottom + 16);
      ctx.fillText(p.yTitle, a.left - 4, a.top + 11);
      if (p.letter) {
        ctx.font = '36px "DejaVu Sans"';
        ctx.fillStyle = '#000'; ctx.textAlign = 'left'; ctx.textBaseline = 'alphabetic';
        ctx.fillText(p.letter[0], p.letter[1] - ox, p.letter[2] - oy);
      }
      ctx.restore();
    }
  };
}

// ---------------- build figure ----------------
const fig = document.getElementById('fig');
[[11, 433, 1031, 1.5], [11, 861, 1031, 1.5], [11, 1300, 1031, 1.5], [10.5, 0, 1.5, 1300]].forEach(([x, y, w, h]) => {
  const d = document.createElement('div'); d.className = 'sep';
  d.style.left = x + 'px'; d.style.top = y + 'px'; d.style.width = w + 'px'; d.style.height = h + 'px';
  fig.appendChild(d);
});

Chart.defaults.font.family = 'DejaVu Sans';

panels.forEach(p => {
  const [cx, cy, cw, ch] = p.canvas;
  const [L, T, R, B] = p.box;
  const cv = document.createElement('canvas');
  cv.width = cw; cv.height = ch;
  cv.style.left = cx + 'px'; cv.style.top = cy + 'px';
  cv.style.width = cw + 'px'; cv.style.height = ch + 'px';
  fig.appendChild(cv);

  let datasets;
  if (p.scores) {
    datasets = species.map(s => {
      const st = speciesStyle[s];
      return {
        label: s, data: toXY(p.scores[s]), showLine: false,
        pointStyle: st.pointStyle, pointRadius: st.radius, pointRotation: st.rotation,
        pointBackgroundColor: st.bg, pointBorderColor: st.border, pointBorderWidth: st.width
      };
    });
  } else {
    // the circles are painted in two passes over the same variables:
    // all the light fills first, then every outline on top of them
    const pts = toXY(p.loads.concat(p.labels.map(l => [l[0], l[1]])));
    datasets = [
      { label: 'loadings fill', data: pts, showLine: false, order: 2,
        pointStyle: 'circle', pointRadius: loadStyle.radius,
        pointBackgroundColor: loadStyle.bg, pointBorderColor: 'rgba(0,0,0,0)', pointBorderWidth: 0 },
      { label: 'loadings', data: pts, showLine: false, order: 1,
        pointStyle: 'circle', pointRadius: loadStyle.radius,
        pointBackgroundColor: 'rgba(0,0,0,0)', pointBorderColor: loadStyle.border, pointBorderWidth: loadStyle.width }
    ];
  }

  const axis = (range, labels, fit, pad) => ({
    type: 'linear', min: range[0], max: range[1],
    afterFit: fit,
    afterBuildTicks: s => { s.ticks = labels.map(l => ({ value: parseFloat(l) })); },
    ticks: { callback: (v, i) => labels[i], font: tickFont, color: INK, padding: pad, maxRotation: 0, minRotation: 0, autoSkip: false },
    grid: { display: false, drawTicks: true, tickLength: 4 },
    border: { display: false }
  });

  new Chart(cv.getContext('2d'), {
    type: 'scatter',
    data: { datasets },
    options: {
      responsive: false, animation: false, devicePixelRatio: 1, events: [],
      layout: { autoPadding: false, padding: { left: 0, top: T - cy, right: cx + cw - R, bottom: 0 } },
      plugins: { legend: { display: false }, tooltip: { enabled: false } },
      scales: {
        x: Object.assign(axis(p.xr, p.xt, s => { s.height = cy + ch - B; }, 4.5), { position: 'bottom' }),
        y: Object.assign(axis(p.yr, p.yt, s => { s.width = L - cx; }, 1), { position: 'left' })
      }
    },
    plugins: [decorPlugin(p)]
  });
});
</script>
</body>
</html>
